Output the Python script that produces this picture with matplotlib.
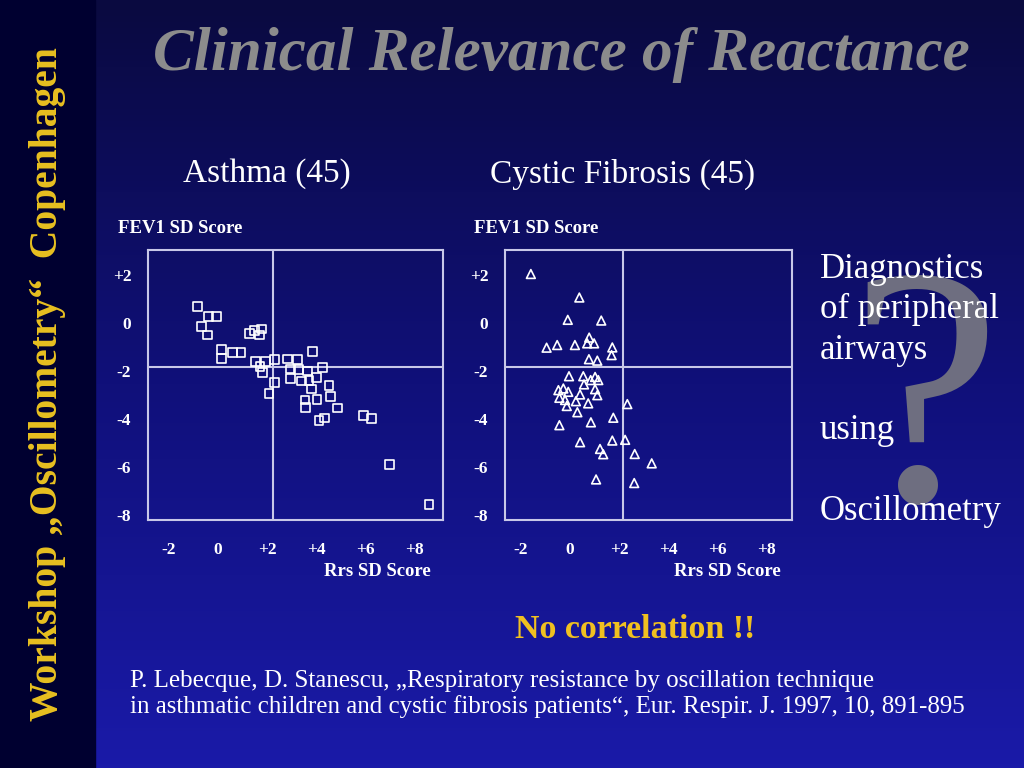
import numpy as np
import matplotlib
matplotlib.use("Agg")
import matplotlib.pyplot as plt
from matplotlib.colors import LinearSegmentedColormap

asthma_x = [-0.84,-0.40,-0.05,-0.67,-0.42,0.15,0.15,0.58,0.94,1.27,1.48,1.76,1.69,1.54,1.92,1.71,1.81,2.30,2.30,2.08,
            2.84,3.25,3.86,2.94,3.28,3.64,4.27,2.97,3.39,3.71,4.03,3.82,4.53,4.60,3.55,3.56,4.04,4.89,4.12,4.33,5.93,6.27,6.99,8.61]
asthma_y = [0.68,0.26,0.26,-0.15,-0.50,-1.09,-1.48,-1.23,-1.23,-0.43,-0.33,-0.25,-0.50,-1.62,-1.62,-1.82,-2.06,-1.51,-2.48,-2.94,
            -1.50,-1.51,-1.19,-1.92,-1.93,-2.00,-1.86,-2.33,-2.42,-2.39,-2.28,-2.75,-2.61,-3.07,-3.21,-3.53,-3.18,-3.54,-4.08,-3.96,-3.85,-3.99,-5.90,-7.57]
cf_x = [-1.59,0.38,-0.09,1.27,-0.95,-0.52,0.20,0.78,0.70,0.98,1.72,1.69,0.77,1.11,-0.04,0.54,1.02,0.84,1.15,0.57,-0.47,-0.27,-0.07,
        0.41,1.02,1.11,-0.43,-0.20,0.24,0.74,-0.13,0.30,-0.43,0.85,1.76,2.33,0.41,1.72,2.24,1.22,1.35,2.63,3.32,1.06,2.61]
cf_y = [2.04,1.06,0.13,0.10,-1.03,-0.92,-0.92,-0.61,-0.85,-0.85,-1.02,-1.34,-1.51,-1.57,-2.22,-2.22,-2.25,-2.38,-2.38,-2.56,-2.80,-2.73,-2.87,
        -2.98,-2.76,-3.01,-3.12,-3.21,-3.26,-3.35,-3.46,-3.72,-4.26,-4.14,-3.95,-3.38,-4.97,-4.90,-4.87,-5.25,-5.47,-5.46,-5.85,-6.52,-6.67]
x_ticks = [-2, 0, 2, 4, 6, 8]
x_labels = ["-2", "0", "+2", "+4", "+6", "+8"]
y_ticks = [2, 0, -2, -4, -6, -8]
y_labels = ["+2", "0", "-2", "-4", "-6", "-8"]

serif = "Liberation Serif"
fig = plt.figure(figsize=(10.24, 7.68), dpi=100)

# background
bg = fig.add_axes([0, 0, 1, 1], zorder=-10)
cmap = LinearSegmentedColormap.from_list("bg", ["#0a0a40", "#10107a", "#1a1aa8"])
grad = np.linspace(0, 1, 256).reshape(-1, 1)
bg.imshow(grad, aspect="auto", cmap=cmap, extent=[0, 1, 0, 1], origin="upper")
bg.axvspan(0, 95/1024, color="#000030")
bg.set_xlim(0, 1); bg.set_ylim(0, 1); bg.axis("off")

fig.text(561/1024, 1-55/768, "Clinical Relevance of Reactance", fontfamily=serif, fontsize=44,
         fontweight="bold", fontstyle="italic", color="#8c8c8c", ha="center", va="center")
fig.text(48/1024, 1-384/768, "Workshop \u201eOscillometry\u201c  Copenhagen", fontfamily=serif, fontsize=28.5,
         fontweight="bold", color="#e8c020", rotation=90, ha="center", va="center")
fig.text(925/1024, 1-418/768, "?", fontfamily=serif, fontsize=245, color="#6e6e80", ha="center", va="center", zorder=0)
fig.text(267/1024, 1-174/768, "Asthma (45)", fontfamily=serif, fontsize=24, color="white", ha="center", va="center")
fig.text(623/1024, 1-174/768, "Cystic Fibrosis (45)", fontfamily=serif, fontsize=24, color="white", ha="center", va="center")
fig.text(820/1024, 1-253/768, "Diagnostics\nof peripheral\nairways\n\nusing\n\nOscillometry", fontfamily=serif,
         fontsize=25, color="white", ha="left", va="top", linespacing=1.29)
fig.text(635/1024, 1-630/768, "No correlation !!", fontfamily=serif, fontsize=24.5, fontweight="bold",
         color="#f0c020", ha="center", va="center")
fig.text(130/1024, 1-694/768, "P. Lebecque, D. Stanescu, \u201eRespiratory resistance by oscillation technique\n"
         "in asthmatic children and cystic fibrosis patients\u201c, Eur. Respir. J. 1997, 10, 891-895",
         fontfamily=serif, fontsize=18, color="white", ha="left", va="center", linespacing=1.15)

def panel(left, right, xmin, xmax, vx, xs, ys, marker):
    ax = fig.add_axes([left/1024, 1-520/768, (right-left)/1024, 270/768])
    ax.set_facecolor("none")
    ax.set_xlim(xmin, xmax); ax.set_ylim(-8.21, 3.04)
    for s in ax.spines.values():
        s.set_color("#c8c8e8"); s.set_linewidth(1.5)
    ax.axvline(vx, color="#c8c8e8", lw=1.5)
    ax.axhline(-1.83, color="#c8c8e8", lw=1.5)
    ax.scatter(xs, ys, marker=marker, s=40, facecolors="none", edgecolors="white", linewidths=1.2, zorder=3)
    ax.set_xticks(x_ticks); ax.set_xticklabels(x_labels)
    ax.set_yticks(y_ticks); ax.set_yticklabels(y_labels)
    ax.tick_params(axis="y", length=0, colors="white", labelsize=12.5, pad=12)
    ax.tick_params(axis="x", length=0, colors="white", labelsize=12.5, pad=16)
    for t in ax.get_xticklabels() + ax.get_yticklabels():
        t.set_fontfamily(serif); t.set_fontweight("bold")
    ax.text(0.11, 1.08, "FEV1 SD Score", transform=ax.transAxes, fontfamily=serif, fontsize=13.5,
            fontweight="bold", color="white", ha="center", va="center")
    ax.text(0.96, -0.19, "Rrs SD Score", transform=ax.transAxes, fontfamily=serif, fontsize=13.5,
            fontweight="bold", color="white", ha="right", va="center")
    return ax

panel(148, 443, -2.86, 9.18, 2.24, asthma_x, asthma_y, "s")
panel(505, 792, -2.64, 9.02, 2.15, cf_x, cf_y, "^")

fig.savefig("out.png", dpi=100)
